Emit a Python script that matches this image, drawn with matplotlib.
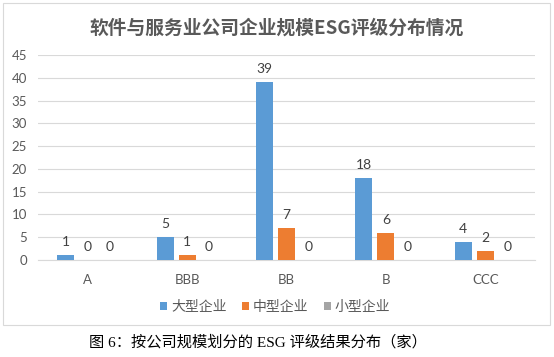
import numpy as np
import matplotlib
matplotlib.use("Agg")
import matplotlib.pyplot as plt
from matplotlib.patches import Rectangle

plt.rcParams['font.family'] = ['Lato', 'Noto Sans CJK SC', 'DejaVu Sans']

# data
ratings = ['A', 'BBB', 'BB', 'B', 'CCC']
series_names = ['大型企业', '中型企业', '小型企业']
large = [1, 5, 39, 18, 4]
medium = [0, 1, 7, 6, 2]
small = [0, 0, 0, 0, 0]
colors = ['#5B9BD5', '#ED7D31', '#A5A5A5']

fig = plt.figure(figsize=(5.54, 3.57), dpi=100)

# chart frame
fig.patches.append(Rectangle((3 / 554, 1 - 325 / 357), 547 / 554, 322 / 357,
                             transform=fig.transFigure, fill=False,
                             edgecolor='#D9D9D9', linewidth=0.8))

ax = fig.add_axes([38 / 554, 1 - 260 / 357, 497 / 554, 205 / 357])

x = np.arange(len(ratings))
width = 0.171
step = 0.221
for i, (vals, name) in enumerate(zip([large, medium, small], series_names)):
    pos = x + (i - 1) * step
    ax.bar(pos, vals, width, color=colors[i], label=name, zorder=3)
    for px, v in zip(pos, vals):
        ax.annotate(str(v), (px, v), xytext=(0, 5), textcoords='offset points',
                    ha='center', va='bottom', fontsize=10, color='#404040')

ax.set_xlim(-0.5, len(ratings) - 0.5)
ax.set_ylim(0, 45)
ax.set_yticks(range(0, 46, 5))
ax.set_xticks(x)
ax.set_xticklabels(ratings)
ax.grid(axis='y', color='#D9D9D9', linewidth=0.8, zorder=0)
for s in ['top', 'right', 'left']:
    ax.spines[s].set_visible(False)
ax.spines['bottom'].set_color('#D9D9D9')
ax.tick_params(axis='both', length=0, labelsize=9.5, colors='#595959')
ax.tick_params(axis='x', pad=10)
ax.tick_params(axis='y', pad=8)

fig.text(0.5, 1 - 28 / 357, '软件与服务业公司企业规模ESG评级分布情况',
         ha='center', va='center', fontsize=13.5, fontweight='bold',
         color='#595959', family=['Noto Sans CJK SC'])

fig.legend(loc='center', bbox_to_anchor=(275 / 554, 1 - 307 / 357), ncol=3,
           frameon=False, prop={'family': 'Noto Sans CJK SC', 'size': 10},
           handlelength=0.55, handleheight=0.55, handletextpad=0.25,
           columnspacing=1.1, labelcolor='#595959')

fig.text(0.465, 1 - 342 / 357, '图 6：按公司规模划分的 ESG 评级结果分布（家）',
         ha='center', va='center', fontsize=11, color='black',
         family=['Liberation Serif', 'Noto Sans CJK SC'])

fig.savefig('out.png', dpi=100)
